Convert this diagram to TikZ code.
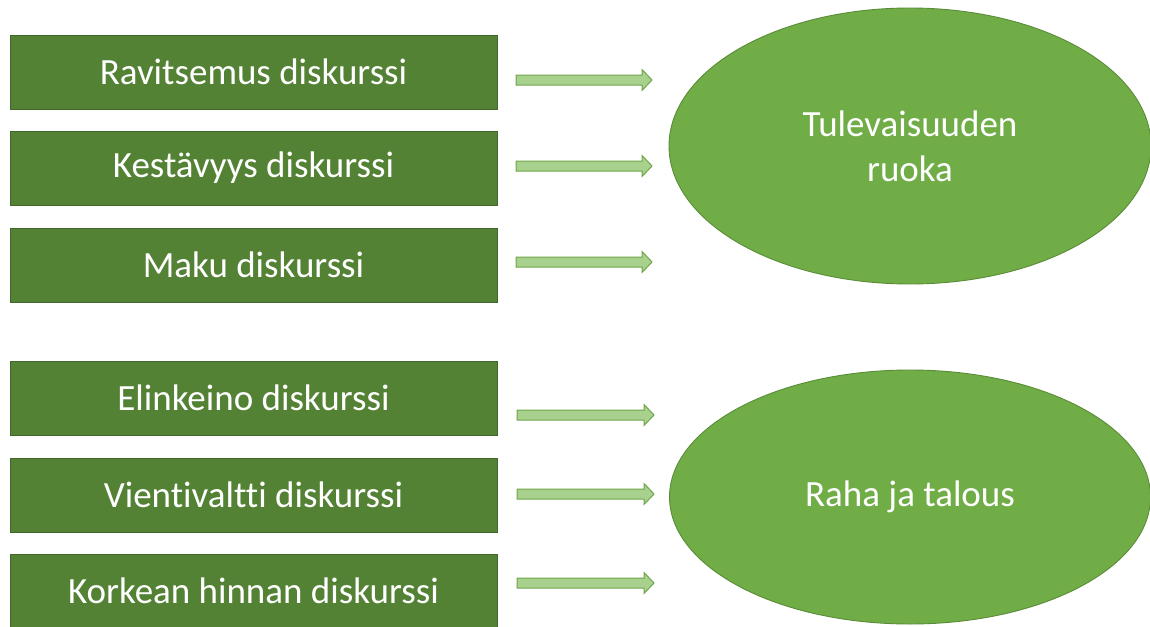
\documentclass[tikz,border=0pt]{standalone}
\usepackage{fontspec}
\setmainfont{Carlito}[Ligatures=NoCommon]
\usetikzlibrary{shapes.geometric,calc}
\definecolor{boxfill}{HTML}{548235}
\definecolor{boxline}{HTML}{41672A}
\definecolor{ovalfill}{HTML}{70AD47}
\definecolor{ovalline}{HTML}{5A8C38}
\definecolor{arrowfill}{HTML}{A9D18E}
\definecolor{arrowline}{HTML}{6FA64A}
\tikzset{
  discourse/.style={rectangle, draw=boxline, fill=boxfill, line width=0.9pt,
    minimum width=487, minimum height=74, inner sep=0pt, text=white,
    font=\fontsize{37}{44}\selectfont},
  theme/.style={ellipse, draw=ovalline, fill=ovalfill, line width=0.9pt,
    inner sep=0pt, text=white, align=center,
    font=\fontsize{37}{45}\selectfont},
  blockarrow/.style={draw=arrowline, fill=arrowfill, line width=1pt,
    to path={let \p1=(\tikztostart), \p2=(\tikztotarget) in
      (\x1,\y1+5) -- (\x2-10,\y1+5) -- (\x2-10,\y1+10.5) -- (\x2,\y1)
      -- (\x2-10,\y1-10.5) -- (\x2-10,\y1-5) -- (\x1,\y1-5) -- cycle}}
}
\begin{document}
\begin{tikzpicture}[x=1pt,y=-1pt]
      \useasboundingbox (0,0) rectangle (1150,626);
      \clip (0,0) rectangle (1150,626);
      \fill[white] (0,0) rectangle (1150,626);
      \draw
        (253.5,72) node[discourse] (ravitsemus){Ravitsemus diskurssi}
        (253.5,168) node[discourse] (kestavyys){Kestävyys diskurssi}
        (253.5,265) node[discourse] (maku){Maku diskurssi}
        (253.5,398) node[discourse] (elinkeino){Elinkeino diskurssi}
        (253.5,495) node[discourse] (vienti){Vientivaltti diskurssi}
        (253.5,591) node[discourse] (hinta){Korkean hinnan diskurssi};
      \draw
        (910,146) node[theme, minimum width=482, minimum height=276] (ruoka){Tulevaisuuden\\ruoka}
        (910,497) node[theme, minimum width=481, minimum height=254] (talous){Raha ja talous};
      \path
        (516,80) coordinate (s1) (652,80) coordinate (t1)
        (516,166) coordinate (s2) (652,166) coordinate (t2)
        (516,262) coordinate (s3) (652,262) coordinate (t3)
        (517,415) coordinate (s4) (654,415) coordinate (t4)
        (517,494) coordinate (s5) (654,494) coordinate (t5)
        (517,583) coordinate (s6) (654,583) coordinate (t6);
      \draw[blockarrow] (s1) to (t1);
      \draw[blockarrow] (s2) to (t2);
      \draw[blockarrow] (s3) to (t3);
      \draw[blockarrow] (s4) to (t4);
      \draw[blockarrow] (s5) to (t5);
      \draw[blockarrow] (s6) to (t6);
\end{tikzpicture}
\end{document}
